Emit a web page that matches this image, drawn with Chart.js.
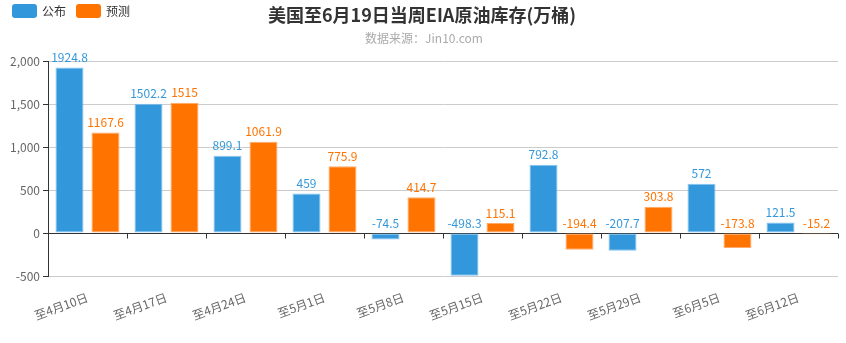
<!DOCTYPE html>
<html><head><meta charset="utf-8">
<script src="https://cdn.jsdelivr.net/npm/chart.js@4/dist/chart.umd.min.js"></script>
<style>html,body{margin:0;padding:0;background:#fff}#wrap{width:846px;height:343px;position:relative}</style>
</head><body><div id="wrap"><canvas id="c"></canvas></div>
<script>
const categories = ['至4月10日','至4月17日','至4月24日','至5月1日','至5月8日','至5月15日','至5月22日','至5月29日','至6月5日','至6月12日'];
const publishedValues = [1924.8, 1502.2, 899.1, 459, -74.5, -498.3, 792.8, -207.7, 572, 121.5];
const forecastValues = [1167.6, 1515, 1061.9, 775.9, 414.7, 115.1, -194.4, 303.8, -173.8, -15.2];
const seriesNames = ['公布', '预测'];
const yTickValues = [-500, 0, 500, 1000, 1500, 2000];
const titleText = '美国至6月19日当周EIA原油库存(万桶)';
const subtitleText = '数据来源：Jin10.com';

const FONT = '"Microsoft YaHei","Noto Sans CJK SC","Noto Sans",sans-serif';
const BLUE = '#3398db';
const ORANGE = '#ff7300';

const headerPlugin = {
  id: 'header',
  afterDraw(chart) {
    const ctx = chart.ctx;
    ctx.save();
    ctx.textBaseline = 'middle';
    ctx.textAlign = 'center';
    ctx.fillStyle = '#333';
    ctx.font = 'bold 18px ' + FONT;
    ctx.fillText(titleText, 422, 15);
    ctx.fillStyle = '#aaa';
    ctx.font = '12px ' + FONT;
    ctx.fillText(subtitleText, 424, 38);
    // legend
    let x = 12;
    chart.data.datasets.forEach((ds) => {
      ctx.fillStyle = ds.backgroundColor;
      ctx.beginPath();
      ctx.roundRect(x, 4, 25, 14, 3);
      ctx.fill();
      ctx.fillStyle = '#333';
      ctx.textAlign = 'left';
      ctx.font = '12px ' + FONT;
      ctx.fillText(ds.label, x + 30, 11);
      x += 30 + ctx.measureText(ds.label).width + 10;
    });
    ctx.restore();
  }
};

const zeroAxisPlugin = {
  id: 'zeroAxis',
  beforeDatasetsDraw(chart) {
    const ctx = chart.ctx;
    const xs = chart.scales.x, ys = chart.scales.y;
    const y0 = Math.round(ys.getPixelForValue(0)) + 0.5;
    ctx.save();
    ctx.strokeStyle = '#333';
    ctx.lineWidth = 1;
    ctx.beginPath();
    ctx.moveTo(xs.left, y0);
    ctx.lineTo(xs.right, y0);
    const n = categories.length;
    for (let i = 0; i <= n; i++) {
      const px = Math.round(xs.left + (xs.right - xs.left) * i / n) + 0.5;
      ctx.moveTo(px, y0);
      ctx.lineTo(px, y0 + 5);
    }
    ctx.stroke();
    ctx.restore();
  }
};

const labelPlugin = {
  id: 'barLabels',
  afterDatasetsDraw(chart) {
    const ctx = chart.ctx;
    ctx.save();
    ctx.font = '12px ' + FONT;
    ctx.textAlign = 'center';
    ctx.textBaseline = 'bottom';
    chart.data.datasets.forEach((ds, di) => {
      const meta = chart.getDatasetMeta(di);
      ctx.fillStyle = ds.backgroundColor;
      meta.data.forEach((bar, i) => {
        const top = Math.min(bar.y, bar.base);
        ctx.fillText(String(ds.data[i]), bar.x, top - 4);
      });
    });
    ctx.restore();
  }
};

new Chart(document.getElementById('c'), {
  type: 'bar',
  data: {
    labels: categories,
    datasets: [
      { label: seriesNames[0], data: publishedValues, backgroundColor: BLUE, borderColor: 'rgba(120,190,240,0.9)', borderWidth: 1, borderSkipped: false },
      { label: seriesNames[1], data: forecastValues, backgroundColor: ORANGE, borderColor: 'rgba(255,160,90,0.9)', borderWidth: 1, borderSkipped: false }
    ]
  },
  options: {
    responsive: true,
    maintainAspectRatio: false,
    animation: false,
    devicePixelRatio: 1,
    categoryPercentage: 0.911,
    barPercentage: 0.778,
    layout: { padding: { top: 61, right: 8, left: 0, bottom: 0 } },
    plugins: { legend: { display: false }, title: { display: false }, tooltip: { enabled: false } },
    scales: {
      x: {
        grid: { display: false },
        border: { display: false },
        ticks: { color: '#666', font: { family: FONT, size: 12 }, minRotation: 20, maxRotation: 20, padding: 6, autoSkip: false },
        afterFit(s) { s.height = 67; }
      },
      y: {
        min: yTickValues[0],
        max: yTickValues[yTickValues.length - 1],
        afterBuildTicks(s) { s.ticks = yTickValues.map(v => ({ value: v })); },
        grid: { color: '#ccc', tickColor: '#333', tickLength: 5 },
        border: { display: true, color: '#333' },
        ticks: { color: '#666', font: { family: FONT, size: 12 }, padding: 3, callback: v => v.toLocaleString('en-US') },
        afterFit(s) { s.width = 48; }
      }
    }
  },
  plugins: [headerPlugin, zeroAxisPlugin, labelPlugin]
});
</script>
</body></html>
